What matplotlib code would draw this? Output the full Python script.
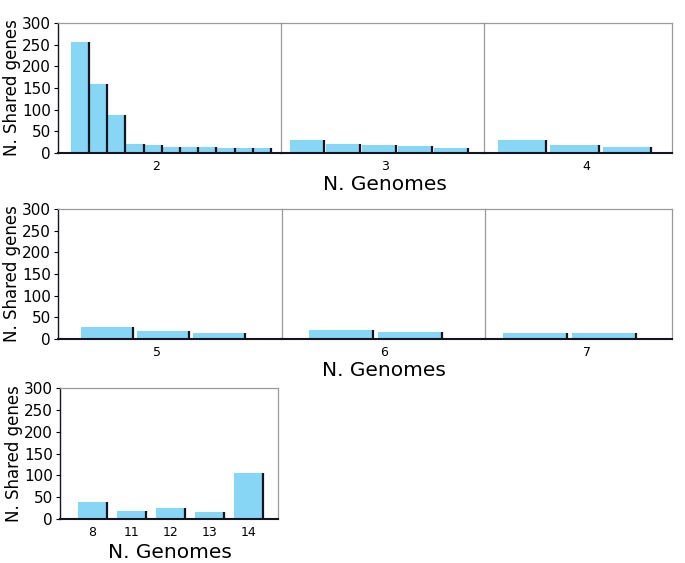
import numpy as np
import matplotlib
matplotlib.use("Agg")
import matplotlib.pyplot as plt

# shared genes per group of N genomes (one panel per N)
genes_2 = [256, 160, 88, 21, 18, 15, 13, 13, 12, 12, 11]
genes_3 = [29, 20, 19, 16, 12]
genes_4 = [31, 19, 13]
genes_5 = [28, 18, 14, 1]
genes_6 = [21, 17]
genes_7 = [15, 13]
last_labels = ['8', '11', '12', '13', '14']
last_genes = [38, 19, 25, 17, 105]

W, H = 685, 563
BAR = '#87d6f6'
EDGE = '#15151f'
GREY = '#9a9a9a'

plt.rcParams['font.family'] = ['DejaVu Sans']
fig = plt.figure(figsize=(W / 100, H / 100), dpi=100)


def panel(left, right, top, bottom, vals, width, xlim, lab_px, lab, first):
    ax = fig.add_axes([left / W, 1 - bottom / H, (right - left) / W, (bottom - top) / H])
    ax.patch.set_alpha(0)
    x = np.arange(len(vals))
    ax.bar(x, vals, width=width, color=BAR, linewidth=0, zorder=2)
    ax.vlines(x + width / 2, 0, vals, color=EDGE, linewidth=1.6, zorder=3)
    ax.set_xlim(*xlim)
    ax.set_ylim(0, 300)
    lo, hi = xlim
    ax.set_xticks([lo + (lab_px - left) / (right - left) * (hi - lo)])
    ax.set_xticklabels([lab], fontsize=9)
    ax.tick_params(axis='x', length=0, pad=5)
    for s in ['top', 'right']:
        ax.spines[s].set_color(GREY)
        ax.spines[s].set_linewidth(0.9)
    ax.spines['bottom'].set_color(EDGE)
    ax.spines['bottom'].set_linewidth(1.5)
    ax.spines['bottom'].set_zorder(4)
    if first:
        ax.spines['left'].set_color(EDGE)
        ax.spines['left'].set_linewidth(1.0)
        ax.set_yticks([0, 50, 100, 150, 200, 250, 300])
        ax.tick_params(axis='y', length=3, width=0.8, labelsize=11, pad=2)
        ax.set_ylabel('N. Shared genes', fontsize=12, labelpad=1)
    else:
        ax.spines['left'].set_visible(False)
        ax.set_yticks([])
    return ax


# top row
panel(58, 281, 23, 153, genes_2, 0.97, (-1.22, 11.03), 156, '2', True)
panel(281, 484, 23, 153, genes_3, 0.93, (-0.715, 4.92), 385, '3', False)
panel(484, 672, 23, 153, genes_4, 0.92, (-0.72, 2.85), 586, '4', False)
fig.text(385 / W, 1 - 184 / H, 'N. Genomes', fontsize=14.5, ha='center', va='center')

# middle row
panel(58, 282, 209, 339, genes_5, 0.93, (-0.875, 3.125), 157, '5', True)
panel(282, 485, 209, 339, genes_6, 0.93, (-0.855, 2.085), 384, '6', False)
panel(485, 672, 209, 339, genes_7, 0.93, (-0.725, 1.985), 587, '7', False)
fig.text(384 / W, 1 - 370 / H, 'N. Genomes', fontsize=14.5, ha='center', va='center')

# bottom row
ax = panel(60, 278, 388, 519, last_genes, 0.74, (-0.83, 4.76), 92, '8', True)
ax.set_xticks(np.arange(len(last_genes)))
ax.set_xticklabels(last_labels, fontsize=9)
fig.text(170 / W, 1 - 553 / H, 'N. Genomes', fontsize=14.5, ha='center', va='center')

fig.savefig('out.png', dpi=100)
